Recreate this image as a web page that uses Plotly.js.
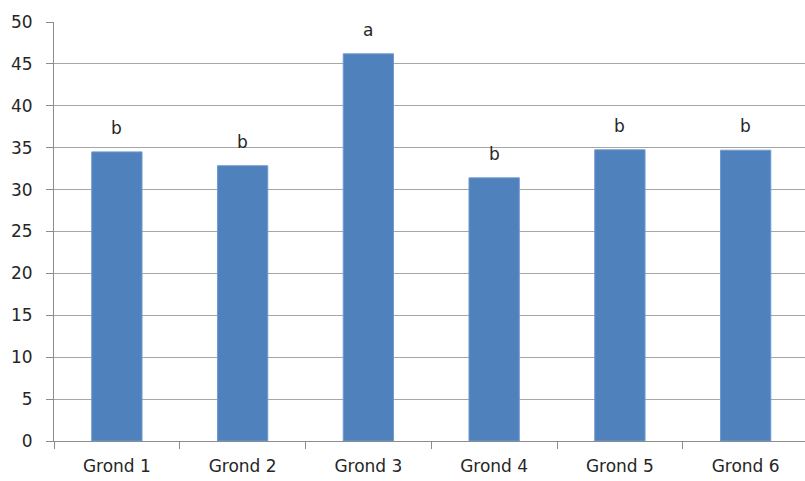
<!DOCTYPE html>
<html>
<head>
<meta charset="utf-8">
<script src="https://cdn.plot.ly/plotly-3.0.1.min.js"></script>
<style>html,body{margin:0;padding:0;background:#fff;}#chart{width:805px;height:481px;}</style>
</head>
<body>
<div id="chart"></div>
<script>
const categories = ["Grond 1", "Grond 2", "Grond 3", "Grond 4", "Grond 5", "Grond 6"];
const values = [34.5, 32.85, 46.2, 31.4, 34.75, 34.7];
const letters = ["b", "b", "a", "b", "b", "b"];
const yTicks = [0, 5, 10, 15, 20, 25, 30, 35, 40, 45, 50];

const font = {family: "DejaVu Sans, sans-serif", size: 17, color: "#262626"};

const trace = {
  type: "bar",
  x: categories,
  y: values,
  marker: {color: "#4f81bd", line: {color: "#6f9ad0", width: 1}},
  hoverinfo: "skip"
};

const annotations = categories.map((c, i) => ({
  x: c, y: values[i], text: letters[i], showarrow: false,
  xref: "x", yref: "y", yanchor: "bottom", yshift: 12,
  font: {family: font.family, size: 17, color: "#262626"}
}));

const layout = {
  width: 805, height: 481,
  margin: {l: 54, r: 0, t: 22, b: 40},
  paper_bgcolor: "#fff", plot_bgcolor: "#fff",
  showlegend: false,
  bargap: 0.6,
  font: font,
  xaxis: {
    type: "category",
    range: [-0.5, 5.472],
    showgrid: false,
    showline: true, linecolor: "#8c8c8c", linewidth: 1,
    ticks: "outside", ticklen: 7, tickcolor: "#8c8c8c",
    tickson: "boundaries",
    ticklabelstandoff: 10,
    tickfont: font,
    fixedrange: true
  },
  yaxis: {
    range: [0, 50],
    tickvals: yTicks,
    ticktext: yTicks.map(String),
    showgrid: true, gridcolor: "#a6a6a6", gridwidth: 1,
    zeroline: false,
    showline: true, linecolor: "#8c8c8c", linewidth: 1,
    ticks: "outside", ticklen: 7, tickcolor: "#8c8c8c",
    ticklabelstandoff: 10,
    tickfont: font,
    fixedrange: true
  },
  annotations: annotations
};

Plotly.newPlot("chart", [trace], layout, {displayModeBar: false, staticPlot: true});
</script>
</body>
</html>
